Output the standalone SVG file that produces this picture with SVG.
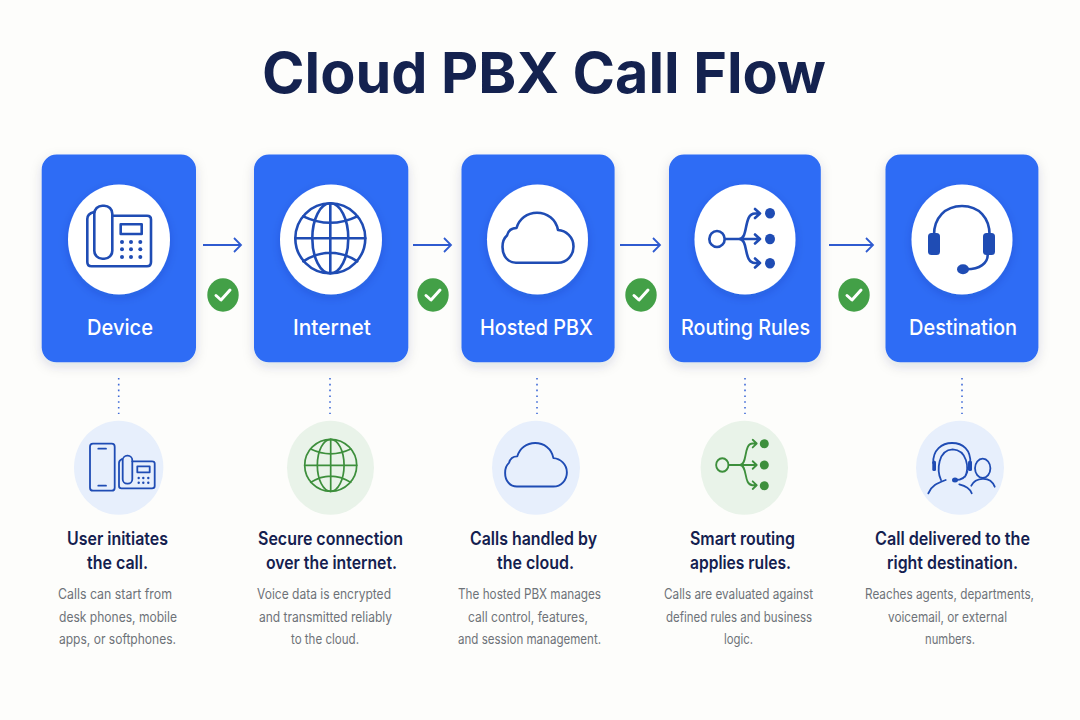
<svg xmlns="http://www.w3.org/2000/svg" width="1080" height="720" viewBox="0 0 1080 720">
<style>
text{font-family:Inter,"Noto Sans","Liberation Sans",sans-serif}
.title{font-size:57px;font-weight:700;fill:#14224f}
.lbl{font-size:22px;font-weight:500;fill:#fff}
.hd{font-size:18px;font-weight:600;fill:#14204f}
.bd{font-size:14px;font-weight:400;fill:#6d7278}
.card{fill:#2d6cf5;filter:url(#sh)}
.disc{fill:#fff;filter:url(#ds)}
.blue{fill:none;stroke:#1f4cb4;stroke-width:2.600;stroke-linecap:round;stroke-linejoin:round}
.thin{fill:none;stroke:#1f4cb4;stroke-width:1.800;stroke-linecap:round;stroke-linejoin:round}
.thinc{fill:none;stroke:#1f4cb4;stroke-width:2.200;stroke-linecap:round;stroke-linejoin:round}
.green{fill:none;stroke:#3d8f3c;stroke-width:2.300;stroke-linecap:round;stroke-linejoin:round}
.sb{fill:#e7effc}.sg{fill:#e9f3e9}
.fb{fill:#1f4cb4}.fg{fill:#3d8f3c}
.arrow{fill:none;stroke:#2f5bd0;stroke-width:1.800;marker-end:url(#ah)}
.dots{fill:none;stroke:#3f6ad8;stroke-width:1.600;stroke-dasharray:1.600 4.200}
.ok{fill:#43a047}
.tick{fill:none;stroke:#fff;stroke-width:3;stroke-linecap:round;stroke-linejoin:round}
</style>
<defs>
<filter id="sh" x="-20%" y="-20%" width="140%" height="140%"><feDropShadow dx="0" dy="4" stdDeviation="6" flood-color="#1d2b55" flood-opacity=".14"/></filter>
<filter id="ds" x="-20%" y="-20%" width="140%" height="140%"><feDropShadow dx="0" dy="3" stdDeviation="5" flood-color="#102a70" flood-opacity=".18"/></filter>
<marker id="ah" markerUnits="userSpaceOnUse" markerWidth="12" markerHeight="18" refX="9" refY="8" orient="auto"><path d="M2 1L9 8L2 15" fill="none" stroke="#2f5bd0" stroke-width="1.800"/></marker>
<g id="globe"><circle r="35"/><ellipse rx="18" ry="35"/><path d="M0-35V35M-35 0H35M-27-22Q0-9 27-22M-27 23Q0 6 27 23"/></g>
<path id="cloud" d="M516 262.700H558C567 262.700 573.500 255 573.500 246.500C573.500 237 566 230.500 558 230C556 219 547 212.700 537 212.700C527 212.700 519 219 516.500 228C511 228 508 231.500 507 235.500C504 238 502.500 243 502.500 247C502.500 256 508 262.700 516 262.700Z"/>
<g id="route"><ellipse cx="0" cy="0" rx="7.700" ry="8"/><path d="M8 0H43M38-4.500L43 0L38 4.500M22 0C32 0 26-25.500 38-25.500H43M38-30L43-25.500L38-21M22 0C32 0 26 24 38 24H43M38 19.500L43 24L38 28.500"/></g>
</defs>
<rect width="1080" height="720" fill="#fdfdfb"/>
<text class="title" x="262" y="93" textLength="564" lengthAdjust="spacingAndGlyphs">Cloud PBX Call Flow</text>
<g id="connectors">
<path class="arrow" d="M203 245H241"/>
<path class="arrow" d="M413 245H451"/>
<path class="arrow" d="M620 245H660"/>
<path class="arrow" d="M829 245H873"/>
<path class="dots" d="M118.700 378V414M330 378V414M537 378V414M745 378V414M962 378V414"/>
</g>
<g id="check-1"><ellipse class="ok" cx="223" cy="295" rx="15.700" ry="16.700"/><path class="tick" d="M216 295.500L221 300L230 290"/></g>
<g id="check-2"><ellipse class="ok" cx="433" cy="295" rx="15.700" ry="16.700"/><path class="tick" d="M426 295.500L431 300L440 290"/></g>
<g id="check-3"><ellipse class="ok" cx="641" cy="295" rx="15.700" ry="16.700"/><path class="tick" d="M634 295.500L639 300L648 290"/></g>
<g id="check-4"><ellipse class="ok" cx="854" cy="295" rx="15.700" ry="16.700"/><path class="tick" d="M847 295.500L852 300L861 290"/></g>
<g id="node-device">
<rect class="card" x="41.700" y="154.500" width="154.300" height="207.800" rx="15"/>
<ellipse class="disc" cx="119" cy="239.500" rx="51" ry="55"/>
<g class="blue"><path d="M94 212C90 213 87.300 215 87.300 219V262C87.300 265 89 266.300 91.500 266.300H147C149.500 266.300 151 265 151 262V219.500C151 217 149.500 215.700 147 215.700H112.300"/><rect x="94.300" y="205.700" width="18" height="53" rx="8"/><rect x="120.700" y="224.300" width="21" height="9.700"/></g>
<g class="fb"><circle cx="122" cy="242" r="2"/><circle cx="131" cy="242" r="2"/><circle cx="140.300" cy="242" r="2"/><circle cx="122" cy="249.300" r="2"/><circle cx="131" cy="249.300" r="2"/><circle cx="140.300" cy="249.300" r="2"/><circle cx="122" cy="257" r="2"/><circle cx="131" cy="257" r="2"/><circle cx="140.300" cy="257" r="2"/></g>
<text class="lbl" x="87" y="335" textLength="66" lengthAdjust="spacingAndGlyphs">Device</text>
<ellipse class="sb" cx="118.700" cy="467.800" rx="44.700" ry="47"/>
<g class="thin"><rect x="90" y="443.700" width="24.700" height="47" rx="3"/><path d="M98.300 448.700H106M98.300 485.700H106"/><path d="M122 459C120 460 119 461 119 463V486C119 487.500 120 488.300 121.500 488.300H152C153.700 488.300 154.700 487.500 154.700 486V463.500C154.700 462 153.700 461.300 152 461.300H132.300"/><rect x="122.700" y="455.700" width="9.600" height="28" rx="4.500"/><rect x="137.300" y="466.300" width="12.400" height="6"/></g>
<g class="fb"><circle cx="138.700" cy="478" r="1.200"/><circle cx="143.300" cy="478" r="1.200"/><circle cx="148.300" cy="478" r="1.200"/><circle cx="138.700" cy="482.700" r="1.200"/><circle cx="143.300" cy="482.700" r="1.200"/><circle cx="148.300" cy="482.700" r="1.200"/></g>
<text class="hd" x="67" y="545" textLength="101" lengthAdjust="spacingAndGlyphs">User initiates</text>
<text class="hd" x="87" y="569" textLength="61" lengthAdjust="spacingAndGlyphs">the call.</text>
<text class="bd" x="58" y="599" textLength="114" lengthAdjust="spacingAndGlyphs">Calls can start from</text>
<text class="bd" x="59" y="621.500" textLength="118" lengthAdjust="spacingAndGlyphs">desk phones, mobile</text>
<text class="bd" x="59" y="644" textLength="117" lengthAdjust="spacingAndGlyphs">apps, or softphones.</text>
</g>
<g id="node-internet">
<rect class="card" x="254" y="154.500" width="154.300" height="207.800" rx="15"/>
<ellipse class="disc" cx="331" cy="239.500" rx="51" ry="55"/>
<use href="#globe" class="blue" transform="translate(330.300 238.300)"/>
<text class="lbl" x="293" y="335" textLength="78" lengthAdjust="spacingAndGlyphs">Internet</text>
<ellipse class="sg" cx="330.500" cy="467.800" rx="43.500" ry="47"/>
<use href="#globe" class="green" transform="translate(330.700 465.300) scale(.743)"/>
<text class="hd" x="258" y="545" textLength="145" lengthAdjust="spacingAndGlyphs">Secure connection</text>
<text class="hd" x="266" y="569" textLength="131" lengthAdjust="spacingAndGlyphs">over the internet.</text>
<text class="bd" x="257" y="599" textLength="134" lengthAdjust="spacingAndGlyphs">Voice data is encrypted</text>
<text class="bd" x="259" y="621.500" textLength="133" lengthAdjust="spacingAndGlyphs">and transmitted reliably</text>
<text class="bd" x="291" y="644" textLength="68" lengthAdjust="spacingAndGlyphs">to the cloud.</text>
</g>
<g id="node-hosted-pbx">
<rect class="card" x="461.500" y="154.500" width="153.100" height="207.800" rx="15"/>
<ellipse class="disc" cx="537.500" cy="239.500" rx="50.500" ry="55"/>
<use href="#cloud" class="blue"/>
<text class="lbl" x="480" y="335" textLength="113" lengthAdjust="spacingAndGlyphs">Hosted PBX</text>
<ellipse class="sb" cx="536" cy="467.800" rx="44" ry="47"/>
<use href="#cloud" class="thinc" transform="translate(536 464.800) scale(.87) translate(-538 -237.700)"/>
<text class="hd" x="470" y="545" textLength="127" lengthAdjust="spacingAndGlyphs">Calls handled by</text>
<text class="hd" x="497" y="569" textLength="77" lengthAdjust="spacingAndGlyphs">the cloud.</text>
<text class="bd" x="458" y="599" textLength="143" lengthAdjust="spacingAndGlyphs">The hosted PBX manages</text>
<text class="bd" x="468" y="621.500" textLength="120" lengthAdjust="spacingAndGlyphs">call control, features,</text>
<text class="bd" x="458" y="644" textLength="143" lengthAdjust="spacingAndGlyphs">and session management.</text>
</g>
<g id="node-routing-rules">
<rect class="card" x="669" y="154.500" width="151.800" height="207.800" rx="15"/>
<ellipse class="disc" cx="745" cy="239.500" rx="50.500" ry="55"/>
<use href="#route" class="blue" transform="translate(717 239)"/>
<g class="fb"><ellipse cx="770" cy="213.300" rx="5" ry="5.300"/><ellipse cx="770" cy="239" rx="5" ry="5.300"/><ellipse cx="770" cy="263.300" rx="5" ry="5.300"/></g>
<text class="lbl" x="681" y="335" textLength="129" lengthAdjust="spacingAndGlyphs">Routing Rules</text>
<ellipse class="sg" cx="744.300" cy="467.800" rx="43.700" ry="47"/>
<use href="#route" class="green" transform="translate(722.300 465) scale(.8 .84)"/>
<g class="fg"><circle cx="764.300" cy="443.700" r="4.500"/><circle cx="764.300" cy="465" r="4.500"/><circle cx="764.300" cy="485.700" r="4.500"/></g>
<text class="hd" x="690" y="545" textLength="105" lengthAdjust="spacingAndGlyphs">Smart routing</text>
<text class="hd" x="690" y="569" textLength="101" lengthAdjust="spacingAndGlyphs">applies rules.</text>
<text class="bd" x="664" y="599" textLength="149" lengthAdjust="spacingAndGlyphs">Calls are evaluated against</text>
<text class="bd" x="666" y="621.500" textLength="146" lengthAdjust="spacingAndGlyphs">defined rules and business</text>
<text class="bd" x="724" y="644" textLength="29" lengthAdjust="spacingAndGlyphs">logic.</text>
</g>
<g id="node-destination">
<rect class="card" x="885.500" y="154.500" width="152.900" height="207.800" rx="15"/>
<ellipse class="disc" cx="962" cy="239.500" rx="50.500" ry="55"/>
<path class="blue" d="M934 235C934 218 945 206 962 206C979 206 989.600 218 989.600 235M987.700 255C987.700 263 980 269.300 966.600 269.300"/>
<g class="fb"><rect x="928" y="233" width="12" height="22" rx="3.500"/><rect x="983" y="233" width="12" height="22" rx="3.500"/><ellipse cx="963" cy="269.300" rx="6" ry="5"/></g>
<text class="lbl" x="909" y="335" textLength="108" lengthAdjust="spacingAndGlyphs">Destination</text>
<ellipse class="sb" cx="960" cy="467.800" rx="44" ry="47"/>
<path class="thin" d="M933.300 463.300C932.500 450 942 443 952 443C963 443 971 450 970.300 463.300M941 480C936.500 470 938 450 952.700 449.300C967 450 969.500 468 965 476.700M967.300 471.700C966 477 962 480 955 480M928.300 493.300C931.700 485 938 483 945.700 480M959.300 484.300C965 485.700 970 488 971.700 493.300M971.300 485.700C975 478 990 475 994.700 486.700"/>
<ellipse class="thin" cx="982.700" cy="468.300" rx="7.700" ry="9.700"/>
<g class="fb"><rect x="932.300" y="460.700" width="3.700" height="10.300" rx="1.500"/><rect x="968" y="460.700" width="4" height="10.300" rx="1.500"/><ellipse cx="955" cy="480" rx="3" ry="2.500"/></g>
<text class="hd" x="875" y="545" textLength="155" lengthAdjust="spacingAndGlyphs">Call delivered to the</text>
<text class="hd" x="887" y="569" textLength="131" lengthAdjust="spacingAndGlyphs">right destination.</text>
<text class="bd" x="865" y="599" textLength="169" lengthAdjust="spacingAndGlyphs">Reaches agents, departments,</text>
<text class="bd" x="888" y="621.500" textLength="119" lengthAdjust="spacingAndGlyphs">voicemail, or external</text>
<text class="bd" x="925" y="644" textLength="50" lengthAdjust="spacingAndGlyphs">numbers.</text>
</g>
</svg>
